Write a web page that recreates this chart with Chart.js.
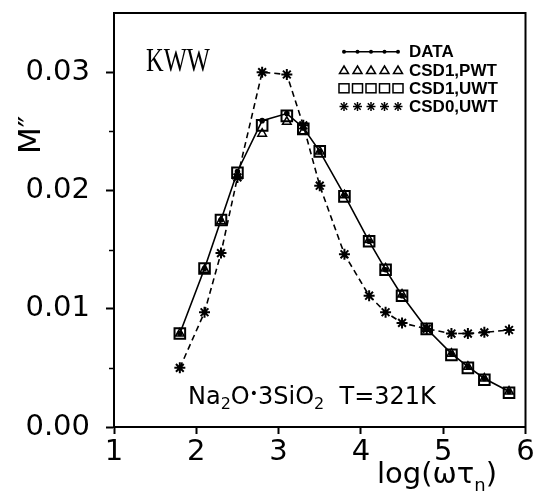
<!DOCTYPE html>
<html>
<head>
<meta charset="utf-8">
<script src="https://cdn.jsdelivr.net/npm/chart.js@4.4.1/dist/chart.umd.min.js"></script>
<style>
html,body{margin:0;padding:0;background:#fff;}
#wrap{width:535px;height:493px;position:relative;}
</style>
</head>
<body>
<div id="wrap"><canvas id="c" width="535" height="493"></canvas></div>
<script>
// ---- data ----
const xValues = [1.8,2.1,2.3,2.5,2.8,3.1,3.3,3.5,3.8,4.1,4.3,4.5,4.8,5.1,5.3,5.5,5.8];
const dataValues = [0.0079,0.0134,0.0175,0.0216,0.0259,0.0265,0.0253,0.0233,0.0196,0.0157,0.0133,0.0111,0.0083,0.0062,0.0051,0.0041,0.0030];
const csd1PwtValues = [0.0079,0.0133,0.0174,0.0212,0.0248,0.0258,0.0250,0.0233,0.0196,0.0158,0.0134,0.0112,0.0083,0.0062,0.0051,0.0041,0.0030];
const csd1UwtValues = [0.0079,0.0134,0.0175,0.0215,0.0255,0.0263,0.0252,0.0233,0.0195,0.0157,0.0133,0.0111,0.0083,0.0061,0.0050,0.0040,0.0029];
const csd0UwtValues = [0.0050,0.0097,0.0147,0.0211,0.0300,0.0298,0.0255,0.0204,0.0146,0.0111,0.0097,0.0088,0.0083,0.0079,0.0079,0.0080,0.0082];
const seriesNames = ['DATA','CSD1,PWT','CSD1,UWT','CSD0,UWT'];
const xTickValues = [1,2,3,4,5,6];
const yTickValues = [0.00,0.01,0.02,0.03];
const yMinorTickValues = [0.005,0.015,0.025];

const pts = vals => xValues.map((x,i)=>({x:x,y:vals[i]}));

const frame = {
  id:'frame',
  afterDraw(chart){
    const ctx = chart.ctx, a = chart.chartArea;
    const ys = chart.scales.y;
    ctx.save();
    ctx.strokeStyle='#000'; ctx.lineWidth=2;
    ctx.strokeRect(a.left, a.top, a.right-a.left, a.bottom-a.top);
    // minor ticks
    ctx.lineWidth=1.5;
    yMinorTickValues.forEach(v=>{
      const py = Math.round(ys.getPixelForValue(v))+0.5;
      ctx.beginPath(); ctx.moveTo(a.left-5,py); ctx.lineTo(a.left,py); ctx.stroke();
    });
    // KWW
    ctx.fillStyle='#000';
    ctx.save();
    ctx.translate(146, 71);
    ctx.scale(0.72,1);
    ctx.font='34px "Liberation Serif"';
    ctx.textBaseline='alphabetic';
    ctx.fillText('KWW',0,0);
    ctx.restore();
    // composition label
    let x = 188, base = 404;
    const big='24px "DejaVu Sans"', small='16px "DejaVu Sans"';
    const parts = [['Na',big,0],['2',small,5],['O',big,0],['\u2022',big,0],['3SiO',big,0],['2',small,5],['  T=321K',big,0]];
    parts.forEach(p=>{
      ctx.font=p[1];
      let t=p[0];
      if(t==='\u2022'){ ctx.font='14px "DejaVu Sans"'; ctx.fillText(t,x,base-6); x+=ctx.measureText(t).width; return; }
      ctx.fillText(t,x,base+p[2]); x+=ctx.measureText(t).width;
    });
    // x title
    x = 377; base = 483;
    ctx.font='29px "DejaVu Sans"';
    ctx.fillText('log(\u03c9\u03c4',x,base); x+=ctx.measureText('log(\u03c9\u03c4').width;
    ctx.font='18px "DejaVu Sans"';
    ctx.fillText('n',x,base+8); x+=ctx.measureText('n').width;
    ctx.font='29px "DejaVu Sans"';
    ctx.fillText(')',x,base);
    // y title
    ctx.save();
    ctx.translate(40,154);
    ctx.rotate(-Math.PI/2);
    ctx.font='31px "DejaVu Sans"';
    ctx.fillText('M\u2033',0,0);
    ctx.restore();
    // legend
    const rows=[51.7,70,88.3,106.5];
    const mx=[344,357.5,371,384.5,398];
    ctx.font='bold 17px "Liberation Sans"';
    ctx.textBaseline='middle';
    rows.forEach((ry,i)=>{
      ctx.fillStyle='#000';
      ctx.fillText(seriesNames[i],409,ry+1);
      ctx.strokeStyle='#000';
      if(i===0){
        ctx.lineWidth=1.5;
        ctx.beginPath();ctx.moveTo(343,ry);ctx.lineTo(398,ry);ctx.stroke();
        mx.forEach(px=>{ctx.beginPath();ctx.arc(px,ry,2,0,Math.PI*2);ctx.fill();});
      } else if(i===1){
        ctx.lineWidth=1.5;
        mx.forEach(px=>{ctx.beginPath();ctx.moveTo(px,ry-4);ctx.lineTo(px+4.5,ry+3.5);ctx.lineTo(px-4.5,ry+3.5);ctx.closePath();ctx.stroke();});
      } else if(i===2){
        ctx.lineWidth=1.5;
        mx.forEach(px=>{ctx.strokeRect(px-5,ry-4.5,10,9);});
      } else {
        ctx.lineWidth=1.5;
        mx.forEach(px=>{
          for(let k=0;k<4;k++){const an=k*Math.PI/4;ctx.beginPath();ctx.moveTo(px-4.5*Math.cos(an),ry-4.5*Math.sin(an));ctx.lineTo(px+4.5*Math.cos(an),ry+4.5*Math.sin(an));ctx.stroke();}
        });
      }
    });
    ctx.restore();
  }
};

new Chart(document.getElementById('c'),{
  type:'scatter',
  data:{datasets:[
    {label:seriesNames[0],data:pts(dataValues),showLine:true,borderColor:'#000',backgroundColor:'#000',borderWidth:1.6,pointRadius:2,pointStyle:'circle',order:1},
    {label:seriesNames[1],data:pts(csd1PwtValues),showLine:false,borderColor:'#000',backgroundColor:'rgba(0,0,0,0)',borderWidth:1.5,pointRadius:5,pointStyle:'triangle',order:2},
    {label:seriesNames[2],data:pts(csd1UwtValues),showLine:false,borderColor:'#000',backgroundColor:'rgba(0,0,0,0)',borderWidth:2,pointRadius:7.5,pointStyle:'rect',order:3},
    {label:seriesNames[3],data:pts(csd0UwtValues),showLine:true,borderColor:'#000',backgroundColor:'#000',borderWidth:1.6,borderDash:[6,4],pointRadius:5.5,pointStyle:'star',pointBorderWidth:2,order:4}
  ]},
  options:{
    responsive:false,animation:false,devicePixelRatio:1,
    layout:{padding:{top:13,right:9,left:0,bottom:0}},
    plugins:{legend:{display:false},tooltip:{enabled:false}},
    scales:{
      x:{type:'linear',min:1,max:6,
        afterFit(s){s.height=66;s.paddingLeft=0;s.paddingRight=0;},
        afterBuildTicks(s){s.ticks=xTickValues.map(v=>({value:v}));},
        grid:{drawOnChartArea:false,drawTicks:true,tickLength:7,tickWidth:2,tickColor:'#000'},
        border:{color:'#000',width:2},
        ticks:{color:'#000',font:{family:'DejaVu Sans',size:29},padding:1,maxRotation:0,callback:v=>String(v)}
      },
      y:{type:'linear',min:0,max:0.035,
        afterFit(s){s.width=114;s.paddingTop=0;s.paddingBottom=0;},
        afterBuildTicks(s){s.ticks=yTickValues.map(v=>({value:v}));},
        grid:{drawOnChartArea:false,drawTicks:true,tickLength:8,tickWidth:2,tickColor:'#000'},
        border:{color:'#000',width:2},
        ticks:{color:'#000',font:{family:'DejaVu Sans',size:29},padding:16,callback:v=>v.toFixed(2)}
      }
    }
  },
  plugins:[frame]
});
</script>
</body>
</html>
